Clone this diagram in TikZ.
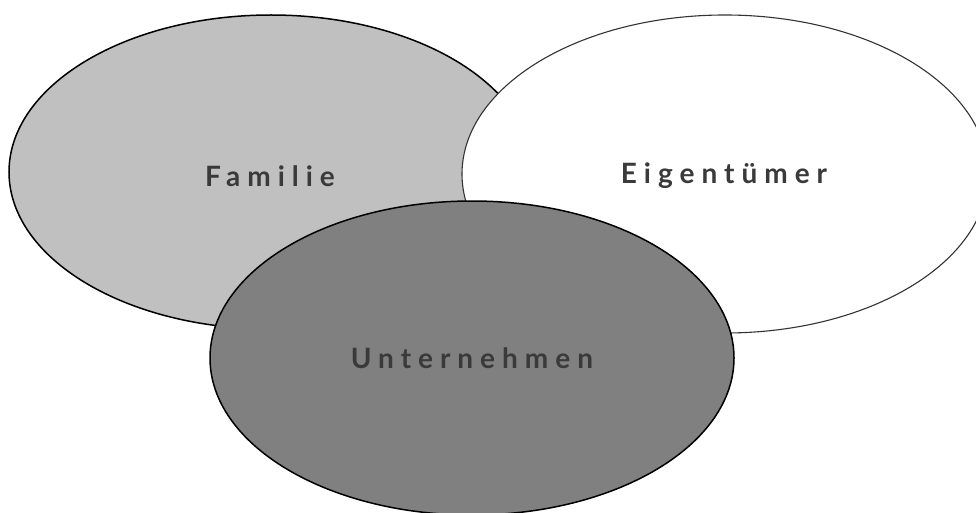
\documentclass[tikz,border=0pt]{standalone}
\usepackage{fontspec}
\usetikzlibrary{shapes.geometric}
\newfontfamily\labelfont{Lato}[LetterSpace=25]
\definecolor{familyfill}{HTML}{C0C0C0}
\definecolor{companyfill}{HTML}{808080}
\definecolor{labelgray}{HTML}{3A3A3A}
\definecolor{ownerline}{HTML}{333333}
\begin{document}
\begin{tikzpicture}[x=1pt,y=-1pt,
  circle set/.style={ellipse, inner sep=0pt, minimum width=524pt, minimum height=314pt},
  set label/.style={font=\labelfont\bfseries\fontsize{28}{32}\selectfont, text=labelgray}]
  \useasboundingbox (0,0) rectangle (976,513);
  \clip (0,0) rectangle (976,513);
  % Familie
  \node[circle set, fill=familyfill, draw=black, line width=1.5pt] (family) at (271,172) {};
  % Eigentuemer
  \node[circle set, fill=white, draw=ownerline, line width=1.1pt, minimum width=526pt, minimum height=318pt] (owner) at (725,174) {};
  % Unternehmen
  \node[circle set, fill=companyfill, draw=black, line width=1.5pt] (company) at (472,358) {};
  % Labels
  \node[set label] (familylabel) at (270,176) {Familie};
  \node[set label] (ownerlabel) at (724,176) {Eigentümer};
  \node[set label] (companylabel) at (472,358) {Unternehmen};
\end{tikzpicture}
\end{document}
